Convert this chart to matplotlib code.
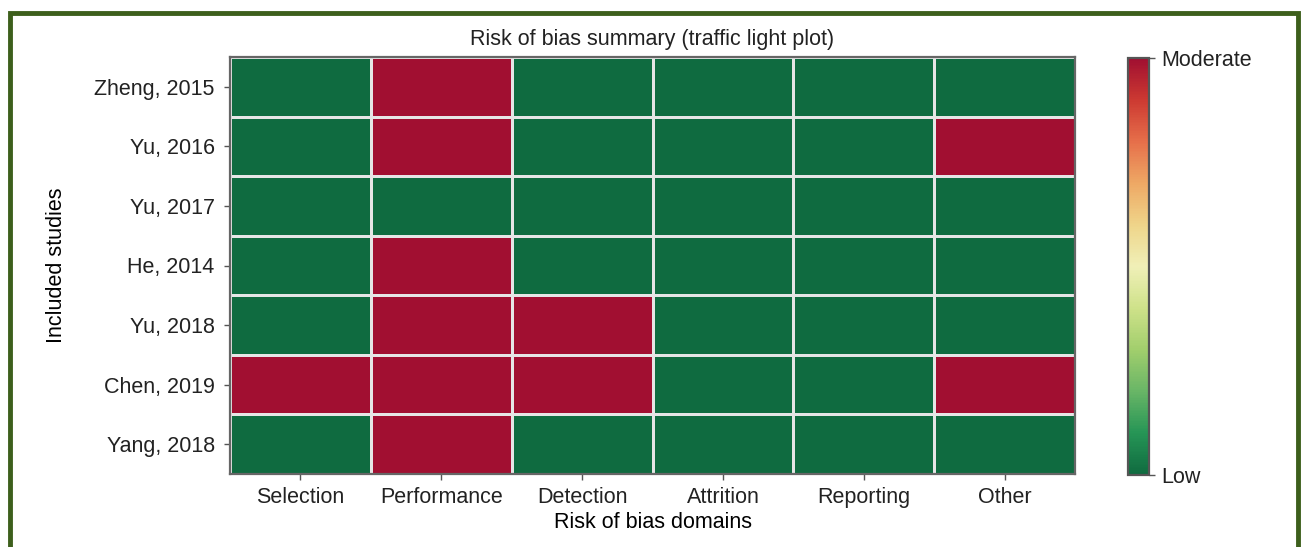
import matplotlib.pyplot as plt
import matplotlib.patches as patches
from matplotlib.colors import ListedColormap
import numpy as np

studies = ['Zheng, 2015', 'Yu, 2016', 'Yu, 2017', 'He, 2014', 'Yu, 2018', 'Chen, 2019', 'Yang, 2018']
domains = ['Selection', 'Performance', 'Detection', 'Attrition', 'Reporting', 'Other']
# 0 = low, 1 = moderate
zheng_2015 = [0, 1, 0, 0, 0, 0]
yu_2016 = [0, 1, 0, 0, 0, 1]
yu_2017 = [0, 0, 0, 0, 0, 0]
he_2014 = [0, 1, 0, 0, 0, 0]
yu_2018 = [0, 1, 1, 0, 0, 0]
chen_2019 = [1, 1, 1, 0, 0, 1]
yang_2018 = [0, 1, 0, 0, 0, 0]
cbar_labels = ['Low', 'Moderate']

risk = np.array([zheng_2015, yu_2016, yu_2017, he_2014, yu_2018, chen_2019, yang_2018])

plt.rcParams['font.family'] = ['Liberation Sans', 'DejaVu Sans']
plt.rcParams['text.color'] = '#222222'
plt.rcParams['xtick.labelcolor'] = '#222222'
plt.rcParams['ytick.labelcolor'] = '#222222'
fs = 15.5

# RdYlGn_r, slightly muted like the printed figure
base = plt.get_cmap('RdYlGn_r')(np.linspace(0, 1, 256))
base[:, :3] = base[:, :3] * 0.88 + 0.5 * 0.12
cmap = ListedColormap(base)

W, H = 1301, 547
fig = plt.figure(figsize=(W / 100, H / 100), dpi=100)

# dark green frame round the figure
fig.patches.append(patches.Rectangle((10 / W, -0.2), 1288 / W, 1.2 - 13 / H,
                                     transform=fig.transFigure, fill=False,
                                     edgecolor='#3d5f1c', linewidth=3.5))

ax = fig.add_axes([230 / W, 1 - 474 / H, 845 / W, 417 / H])
cax = fig.add_axes([1128 / W, 1 - 475 / H, 21 / W, 417 / H])

mesh = ax.pcolormesh(risk, cmap=cmap, vmin=0, vmax=1,
                     edgecolors='#e6e6e6', linewidth=2)
ax.set_xlim(0, len(domains))
ax.set_ylim(len(studies), 0)
ax.set_xticks(np.arange(len(domains)) + 0.5)
ax.set_xticklabels(domains, fontsize=fs)
ax.set_yticks(np.arange(len(studies)) + 0.5)
ax.set_yticklabels(studies, fontsize=fs)
ax.tick_params(axis='x', length=4, width=1, color='#555555', pad=5.5)
ax.tick_params(axis='y', length=4, width=1, color='#555555', pad=7)
for s in ax.spines.values():
    s.set_color('#666666')
    s.set_linewidth(1.6)

ax.set_title('Risk of bias summary (traffic light plot)', fontsize=fs, pad=9)
ax.set_xlabel('Risk of bias domains', fontsize=fs)
ax.set_ylabel('Included studies', fontsize=fs)
ax.xaxis.set_label_coords(0.5, -0.092)
ax.yaxis.set_label_coords(-0.193, 0.5)

cb = fig.colorbar(mesh, cax=cax, ticks=[0, 1])
cb.ax.set_yticklabels(cbar_labels, fontsize=fs)
cb.ax.tick_params(length=4, width=1, color='#555555', pad=5)
cb.outline.set_edgecolor('#555555')
cb.outline.set_linewidth(1.6)

fig.savefig('out.png', dpi=100)
